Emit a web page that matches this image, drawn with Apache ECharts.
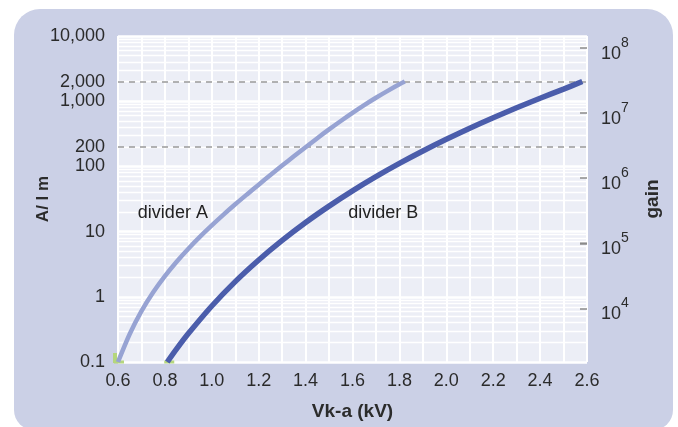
<!DOCTYPE html>
<html><head><meta charset="utf-8">
<script src="https://cdn.jsdelivr.net/npm/echarts@6/dist/echarts.min.js"></script>
<style>html,body{margin:0;padding:0;background:#fff;}#c{width:678px;height:427px;}</style>
</head><body><div id="c"></div>
<script>
// Divider A (x in kV, y in A/lm)
const xA = [0.6, 0.65, 0.7, 0.75, 0.8, 0.85, 0.9, 0.95, 1.0, 1.05, 1.1, 1.15, 1.2, 1.25, 1.3, 1.35, 1.4, 1.45, 1.5, 1.55, 1.6, 1.65, 1.7, 1.75, 1.8, 1.823];
const yA = [0.1, 0.269, 0.603, 1.175, 2.08, 3.45, 5.47, 8.37, 12.45, 18.2, 26.2, 37.2, 52.5, 73.7, 103, 143, 197, 271, 369, 497, 663, 872, 1130, 1442, 1816, 2000];
// Divider B
const xB = [0.81, 0.85, 0.9, 1.0, 1.1, 1.2, 1.3, 1.4, 1.5, 1.6, 1.7, 1.8, 1.9, 2.0, 2.1, 2.2, 2.3, 2.4, 2.5, 2.58];
const yB = [0.1, 0.159, 0.273, 0.723, 1.71, 3.67, 7.33, 13.8, 24.6, 42.2, 69.6, 111, 172, 260, 385, 558, 794, 1111, 1532, 2000];
// Axis labels
const leftLabelValues = [0.1, 1, 10, 100, 200, 1000, 2000, 10000];
const leftLabelTexts  = ['0.1', '1', '10', '100', '200', '1,000', '2,000', '10,000'];
const refLines = [200, 2000];
const gainTicks = [1e4, 1e5, 1e6, 1e7, 1e8];
const gainFactor = 14860; // gain per A/lm on this chart
const xTicks = [0.6, 0.8, 1.0, 1.2, 1.4, 1.6, 1.8, 2.0, 2.2, 2.4, 2.6];
const labelA = {text: 'divider A', coord: [0.834, 19.3]};
const labelB = {text: 'divider B', coord: [1.731, 19.3]};

const minorVals = [];
for (let n = -1; n <= 3; n++) for (let k = 2; k <= 9; k++) minorVals.push(k * Math.pow(10, n));

const chart = echarts.init(document.getElementById('c'), null, {renderer: 'canvas'});
const FONT = '"Liberation Sans", Arial, sans-serif';
const option = {
  animation: false,
  textStyle: {fontFamily: FONT},
  graphic: [{
    type: 'rect', z: -10, silent: true,
    shape: {x: 14, y: 9, width: 659, height: 421, r: [26, 26, 20, 20]},
    style: {fill: '#cbd0e6'}
  }],
  grid: {left: 118, right: 91, top: 36, bottom: 65, show: true,
         backgroundColor: '#eceef6', borderWidth: 0},
  xAxis: {
    type: 'value', min: xTicks[0], max: xTicks[xTicks.length - 1], interval: 0.2,
    axisLine: {show: false}, axisTick: {show: false},
    axisLabel: {color: '#2b2b2b', fontSize: 18, margin: 10, fontFamily: FONT,
                formatter: v => v.toFixed(1)},
    splitLine: {show: true, lineStyle: {color: '#ffffff', width: 2}},
    minorTick: {show: false, splitNumber: 2},
    minorSplitLine: {show: true, lineStyle: {color: '#ffffff', width: 2}},
    name: 'Vk-a (kV)', nameLocation: 'middle', nameGap: 40, nameMoveOverlap: false,
    nameTextStyle: {fontSize: 19, fontWeight: 'bold', color: '#2b2b2b', fontFamily: FONT}
  },
  yAxis: [{
    type: 'log', logBase: 10, min: 0.1, max: 10000,
    axisLine: {show: false}, axisTick: {show: false},
    axisLabel: {color: '#2b2b2b', fontSize: 18, margin: 13, fontFamily: FONT,
                customValues: leftLabelValues,
                formatter: v => {
                  let best = 0, d = Infinity;
                  leftLabelValues.forEach((lv, i) => {
                    const dd = Math.abs(Math.log10(lv) - Math.log10(v));
                    if (dd < d) { d = dd; best = i; }
                  });
                  return leftLabelTexts[best];
                }},
    splitLine: {show: true, lineStyle: {color: '#ffffff', width: 2.5}},
    name: 'A/ l m', nameLocation: 'middle', nameGap: 66, nameRotate: 90, nameMoveOverlap: false,
    nameTextStyle: {fontSize: 17, fontWeight: 'bold', color: '#2b2b2b', fontFamily: FONT}
  }, {
    type: 'log', logBase: 10, min: 0.1 * gainFactor, max: 10000 * gainFactor,
    position: 'right',
    axisLine: {show: false},
    axisTick: {show: true, inside: true, length: 7, customValues: gainTicks,
               lineStyle: {color: '#8a8a8a', width: 2.5}},
    axisLabel: {margin: 14, customValues: gainTicks,
                formatter: v => '{b|10}{s|' + Math.round(Math.log10(v)) + '}',
                rich: {
                  b: {fontSize: 18, color: '#2b2b2b', lineHeight: 18, padding: [13, 0, 0, 0], verticalAlign: 'middle', fontFamily: FONT},
                  s: {fontSize: 14, color: '#2b2b2b', lineHeight: 14, padding: [0, 0, 9, 0], verticalAlign: 'middle', fontFamily: FONT}
                }},
    splitLine: {show: false},
    name: 'gain', nameLocation: 'middle', nameGap: 56, nameRotate: 90, nameMoveOverlap: false,
    nameTextStyle: {fontSize: 19, fontWeight: 'bold', color: '#2b2b2b', fontFamily: FONT}
  }],
  series: [{
    type: 'line', data: [], z: 1, silent: true,
    markLine: {
      silent: true, symbol: 'none', label: {show: false}, animation: false,
      lineStyle: {color: '#ffffff', width: 1.4, type: 'solid'},
      data: minorVals.map(v => ({yAxis: v}))
    }
  }, {
    type: 'line', data: [], z: 2, silent: true,
    markLine: {
      silent: true, symbol: 'none', label: {show: false}, animation: false,
      lineStyle: {color: '#999999', width: 1.5, type: [6, 5]},
      data: refLines.map(v => ({yAxis: v}))
    }
  }, {
    name: 'divider A', type: 'line', z: 5,
    data: xA.map((x, i) => [x, yA[i]]),
    smooth: 0.3, showSymbol: false, symbol: 'none',
    lineStyle: {color: '#97a3d3', width: 4.5},
    markPoint: {
      silent: true,
      data: [
        {coord: [xA[0], yA[0]], symbol: 'rect', symbolSize: [4, 10], symbolOffset: [-3, -4], itemStyle: {color: '#b5d67d'}},
        {coord: [xA[0], yA[0]], symbol: 'rect', symbolSize: [10, 3], symbolOffset: [1, 0], itemStyle: {color: '#b5d67d'}},
        {coord: [xB[0], yB[0]], symbol: 'rect', symbolSize: [10, 3], symbolOffset: [2, 0], itemStyle: {color: '#b5d67d'}},
        {coord: labelA.coord, symbol: 'circle', symbolSize: 1, itemStyle: {color: 'rgba(0,0,0,0)'},
         label: {show: true, position: 'inside', formatter: labelA.text, color: '#222', fontSize: 18, fontFamily: FONT}},
        {coord: labelB.coord, symbol: 'circle', symbolSize: 1, itemStyle: {color: 'rgba(0,0,0,0)'},
         label: {show: true, position: 'inside', formatter: labelB.text, color: '#222', fontSize: 18, fontFamily: FONT}}
      ]
    }
  }, {
    name: 'divider B', type: 'line', z: 6,
    data: xB.map((x, i) => [x, yB[i]]),
    smooth: 0.3, showSymbol: false, symbol: 'none',
    lineStyle: {color: '#4b5dab', width: 5.5}
  }]
};
chart.setOption(option);
</script>
</body></html>
